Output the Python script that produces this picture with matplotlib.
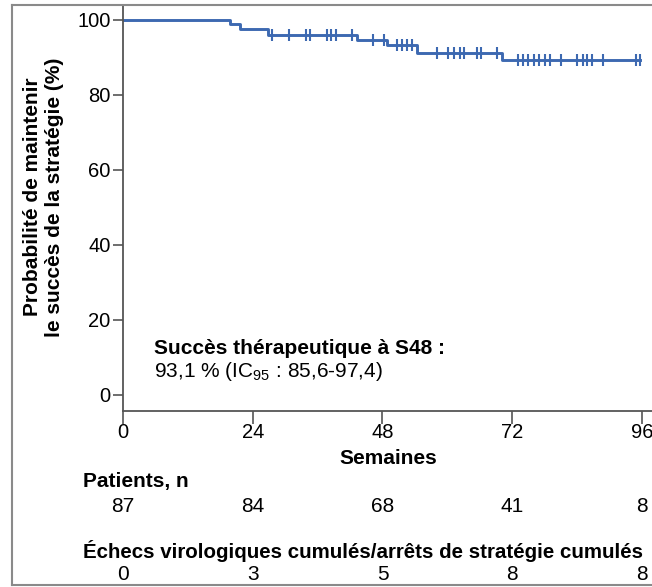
import numpy as np
import matplotlib
matplotlib.use('Agg')
import matplotlib.pyplot as plt
from matplotlib.lines import Line2D
from matplotlib.transforms import blended_transform_factory

plt.rcParams['font.family'] = ['Liberation Sans', 'DejaVu Sans']
plt.rcParams['mathtext.fontset'] = 'custom'
plt.rcParams['mathtext.rm'] = 'Liberation Sans'

# courbe de Kaplan-Meier (semaines, %)
step_t = [0, 19.8, 21.7, 26.9, 43.3, 48.8, 54.4, 70.1]
step_s = [100, 98.8, 97.6, 96.0, 94.7, 93.2, 91.2, 89.3]
t_end = 95.6
censures = [27.6, 30.7, 33.8, 34.6, 37.7, 38.5, 39.4, 42.4, 46.3, 48.3,
            50.7, 51.6, 52.5, 53.4, 58.1, 60.2, 61.3, 62.3, 63.1, 65.5, 66.2,
            69.2, 73.0, 74.0, 75.0, 76.0, 77.0, 78.0, 79.0, 81.0,
            84.0, 85.0, 85.9, 86.8, 88.8, 94.8, 95.6]

semaines = [0, 24, 48, 72, 96]
patients = [87, 84, 68, 41, 8]
echecs = [0, 3, 5, 8, 8]

bleu = '#3d69b1'
gris = '#555555'

fig = plt.figure(figsize=(6.52, 5.87), dpi=100)
ax = fig.add_axes([123/652, 1-411/587, 1-123/652, 406/587])

x = step_t + [t_end]
y = step_s + [step_s[-1]]
ax.step(x, y, where='post', color=bleu, lw=2.1)
idx = np.searchsorted(step_t, censures, side='right') - 1
ax.plot(censures, np.array(step_s)[idx], ls='none', marker='|', ms=8,
        mew=1.5, color=bleu)

ax.set_xlim(0, 97.85)
ax.set_ylim(-4.3, 104)
ax.set_xticks(semaines)
ax.set_yticks([0, 20, 40, 60, 80, 100])
ax.tick_params(labelsize=14.5, width=1.2, color=gris)
ax.tick_params(axis='x', length=9, pad=0)
ax.tick_params(axis='y', length=7, pad=2)
for s in ['top', 'right']:
    ax.spines[s].set_visible(False)
for s in ['left', 'bottom']:
    ax.spines[s].set_color(gris)
    ax.spines[s].set_linewidth(1.3)

ax.text(5.7, 12.5, 'Succès thérapeutique à S48 :', fontsize=15, fontweight='bold',
        va='center')
ax.text(5.7, 6.2, '93,1 % (IC$_{\\mathregular{95}}$ : 85,6-97,4)', fontsize=15,
        va='center')

fig.text(44/652, 1-197/587, 'Probabilité de maintenir\nle succès de la stratégie (%)',
         rotation=90, ha='center', va='center', fontsize=15, fontweight='bold',
         multialignment='center', linespacing=1.2)

fig.text(388/652, 1-459/587, 'Semaines', ha='center', va='center',
         fontsize=15, fontweight='bold')
fig.text(83/652, 1-482/587, 'Patients, n', ha='left', va='center',
         fontsize=15, fontweight='bold')
fig.text(83/652, 1-551/587, 'Échecs virologiques cumulés/arrêts de stratégie cumulés',
         ha='left', va='center', fontsize=14.8, fontweight='bold')

tr = blended_transform_factory(ax.transData, fig.transFigure)
for s, p, e in zip(semaines, patients, echecs):
    ax.text(s, 1-507/587, str(p), transform=tr, ha='center', va='center',
            fontsize=15, clip_on=False)
    ax.text(s, 1-574/587, str(e), transform=tr, ha='center', va='center',
            fontsize=15, clip_on=False)

# cadre gris autour de la figure
cadre = dict(color='#8a8a8a', lw=1.5, transform=fig.transFigure)
fig.add_artist(Line2D([12/652, 12/652], [1-585/587, 1-5/587], **cadre))
fig.add_artist(Line2D([12/652, 1], [1-5/587, 1-5/587], **cadre))
fig.add_artist(Line2D([12/652, 1], [1-585/587, 1-585/587], **cadre))

fig.savefig('out.png', dpi=100)
